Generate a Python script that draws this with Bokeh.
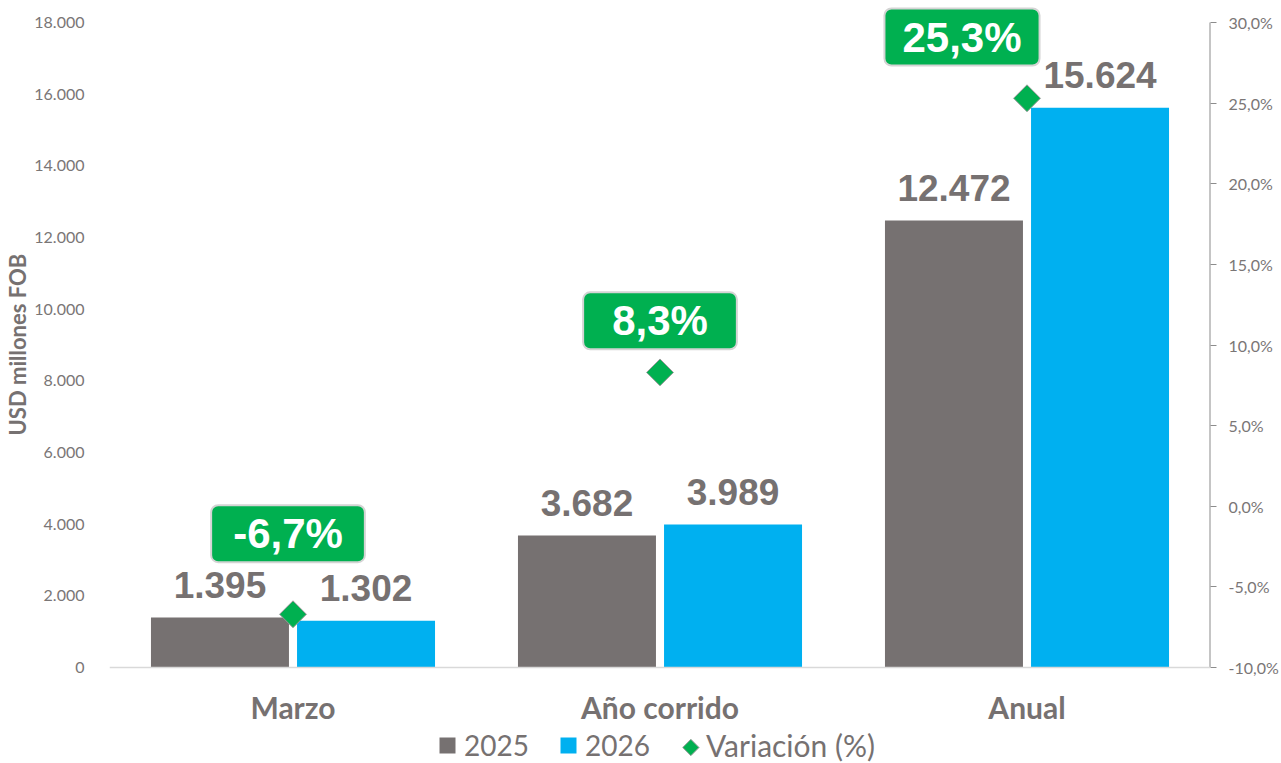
import math
from bokeh.plotting import figure
from bokeh.models import (ColumnDataSource, FactorRange, Range1d, LinearAxis, FixedTicker,
                          Legend, LegendItem, Label, Span, Title)
from bokeh.transform import dodge
from bokeh.core.properties import value
from bokeh.embed import file_html
from bokeh.resources import INLINE

# ---------------- data ----------------
categories = ["Marzo", "Año corrido", "Anual"]
values_2025 = [1395, 3682, 12472]
values_2026 = [1302, 3989, 15624]
variation = [-6.7, 8.3, 25.3]
left_ticks = [0, 2000, 4000, 6000, 8000, 10000, 12000, 14000, 16000, 18000]
right_ticks = [-10, -5, 0, 5, 10, 15, 20, 25, 30]
series_names = ["2025", "2026", "Variación (%)"]
y_title = "USD millones FOB"


def miles(v):
    return f"{v:,}".replace(",", ".")


def pct(v, d=1):
    return f"{v:.{d}f}".replace(".", ",") + "%"


# ---------------- style / layout ----------------
GRAY = "#767171"
BLUE = "#00B0F0"
GREEN = "#00B050"
TXT = "#767171"
TICK_TXT = "#7a7676"
MARK_EDGE = "#9a9a9a"
CAL = "Lato"
ARIAL = "Liberation Sans"

W, H = 1281, 763
FRAME_L, FRAME_R = 105, 1211
PY_ZERO, PY_TOP = 667, 22            # pixel rows of value 0 and of the top tick
UPP = left_ticks[-1] / (PY_ZERO - PY_TOP)   # data units per pixel
Y_START = -(H - PY_ZERO) * UPP
Y_END = left_ticks[-1] + PY_TOP * UPP
PCT_PER_UNIT = (right_ticks[-1] - right_ticks[0]) / left_ticks[-1]
CAT_PX = (FRAME_R - FRAME_L) / len(categories)

BAR_W = 0.376
BAR_OFF = 0.199
LABEL_GAP_PX = 33
CAT_LABEL_PX = 39
TITLE_BOTTOM_PX = 435
SWATCH_PX = (689, 747)   # legend marker swatch centre (pixels)
# annotation box placement (pct units above marker, px horizontal shift, horizontal padding)
box_dy = [5.0, 3.2, 3.8]
box_dx = [-5, 0, -65]
box_hpad = [22, 29, 18]

src = ColumnDataSource(dict(
    cat=categories,
    v25=values_2025,
    v26=values_2026,
    var=variation,
    l25=[miles(v) for v in values_2025],
    l26=[miles(v) for v in values_2026],
    ly25=[v + LABEL_GAP_PX * UPP for v in values_2025],
    ly26=[v + LABEL_GAP_PX * UPP for v in values_2026],
    cy=[-CAT_LABEL_PX * UPP] * len(categories),
))

p = figure(width=W, height=H,
           x_range=FactorRange(factors=categories, range_padding=0),
           y_range=Range1d(Y_START, Y_END),
           output_backend="svg", toolbar_location=None,
           min_border_left=FRAME_L, min_border_right=W - FRAME_R,
           min_border_top=0, min_border_bottom=0,
           outline_line_color=None, background_fill_color="white",
           border_fill_color="white")
p.extra_y_ranges = {"pct": Range1d(right_ticks[0] + Y_START * PCT_PER_UNIT,
                                   right_ticks[0] + Y_END * PCT_PER_UNIT)}
p.xgrid.visible = False
p.ygrid.visible = False
p.xaxis.visible = False

# baseline
p.add_layout(Span(location=0, dimension="width", line_color="#d9d9d9", line_width=1.5))

# bars
r25 = p.vbar(x=dodge("cat", -BAR_OFF, range=p.x_range), top="v25", width=BAR_W,
             source=src, fill_color=GRAY, line_color=None)
r26 = p.vbar(x=dodge("cat", BAR_OFF, range=p.x_range), top="v26", width=BAR_W,
             source=src, fill_color=BLUE, line_color=None)

# value labels
for col, off in (("25", -BAR_OFF), ("26", BAR_OFF)):
    p.text(x=dodge("cat", off, range=p.x_range), y="ly" + col, text="l" + col, source=src,
           text_align="center", text_baseline="alphabetic",
           text_font=value(ARIAL), text_font_style="bold", text_font_size="37px",
           text_color=TXT)

# category labels
p.text(x="cat", y="cy", text="cat", source=src, text_align="center",
       text_baseline="middle", text_font=value(CAL), text_font_style="bold",
       text_font_size="30px", text_color=TXT)

# variation markers
r_var = p.scatter(x="cat", y="var", y_range_name="pct", source=src, marker="square",
                  angle=math.pi / 4, size=19, fill_color=GREEN, line_color=MARK_EDGE,
                  line_width=1)

# variation boxes
for i, (v, dy, dx, hp) in enumerate(zip(variation, box_dy, box_dx, box_hpad)):
    p.add_layout(Label(x=i + 0.5, y=v + dy,
                       y_range_name="pct", text=pct(v), x_offset=dx,
                       text_align="center", text_baseline="middle",
                       text_font=ARIAL, text_font_style="bold",
                       text_font_size="42px", text_color="white",
                       background_fill_color=GREEN, border_line_color="#d4d4d4",
                       border_line_width=2, border_radius=7, padding=(hp, 5)))

# left axis
ya = p.yaxis[0]
ya.ticker = FixedTicker(ticks=left_ticks)
ya.major_label_overrides = {t: miles(t) for t in left_ticks}
ya.axis_line_color = None
ya.major_tick_line_color = None
ya.minor_tick_line_color = None
ya.major_label_standoff = 19
ya.major_label_text_font = CAL
ya.major_label_text_font_size = "16px"
ya.major_label_text_color = TICK_TXT

p.add_layout(Title(text=y_title, align="left", offset=H - TITLE_BOTTOM_PX, standoff=2,
                   text_font=CAL, text_font_style="bold", text_font_size="22px",
                   text_color=TXT), "left")

# right axis (its line drawn only over the tick span)
ra = LinearAxis(y_range_name="pct", ticker=FixedTicker(ticks=right_ticks))
ra.major_label_overrides = {t: pct(t) for t in right_ticks}
ra.axis_line_color = None
ra.major_tick_line_color = "#8c8c8c"
ra.major_tick_out = 6
ra.major_tick_in = 0
ra.minor_tick_line_color = None
ra.major_label_standoff = 12
ra.major_label_text_font = CAL
ra.major_label_text_font_size = "16px"
ra.major_label_text_color = TICK_TXT
p.add_layout(ra, "right")
n = len(categories)
p.segment(x0=[n], x1=[n], y0=[right_ticks[0]], y1=[right_ticks[-1]], y_range_name="pct",
          line_color="#8c8c8c", line_width=2)

# legend
proxy = p.scatter(x="cat", y="var", y_range_name="pct", source=src, marker="square",
                  fill_alpha=0, line_alpha=0, visible=False)

common = dict(orientation="horizontal", padding=0, margin=0, border_line_color=None,
              background_fill_alpha=0, label_text_font=CAL,
              label_text_color=TXT, inactive_fill_alpha=0)
leg1 = Legend(items=[LegendItem(label=series_names[0], renderers=[r25]),
                     LegendItem(label=series_names[1], renderers=[r26])],
              location=(328, 1), glyph_width=20, glyph_height=20, label_standoff=7,
              spacing=29, label_text_font_size="28px", **common)
leg2 = Legend(items=[LegendItem(label=series_names[2], renderers=[proxy])],
              location=(557, -2), glyph_width=40, glyph_height=40, label_standoff=-11,
              label_text_font_size="30px", **common)
p.add_layout(leg1, "center")
p.add_layout(leg2, "center")

# legend swatch for the marker series (rotated square, like the chart markers)
p.scatter(x=[(SWATCH_PX[0] - FRAME_L) / CAT_PX], y=[(PY_ZERO - SWATCH_PX[1]) * UPP],
          marker="square", angle=math.pi / 4, size=11.5, fill_color=GREEN,
          line_color=MARK_EDGE, line_width=1)

open("out.html", "w").write(file_html(p, INLINE))
